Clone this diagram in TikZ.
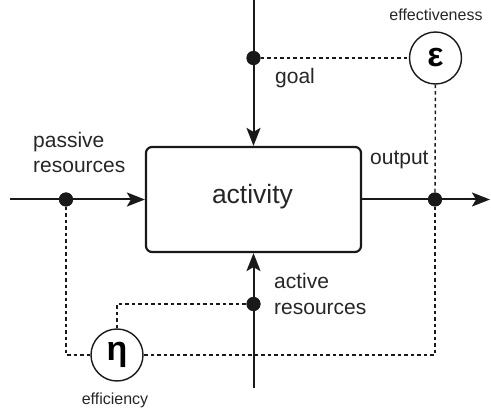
\documentclass[tikz,border=0pt]{standalone}
\usepackage{fontspec}
\setmainfont{Liberation Sans}
\usetikzlibrary{arrows.meta}
\begin{document}
\begin{tikzpicture}[x=1pt,y=-1pt,
  mainline/.style={line width=2pt,draw=black!90},
  arr/.style={mainline,-{Stealth[length=18pt,width=14pt,inset=4pt]}},
  dotline/.style={line width=1.4pt,dash pattern=on 3.5pt off 3pt,draw=black!90},
  blob/.style={circle,fill=black!90,inner sep=0pt,minimum size=14pt},
  meas/.style={circle,draw=black!90,line width=1.4pt,fill=white,minimum size=52pt,inner sep=0pt,font=\fontsize{34pt}{34pt}\selectfont\bfseries},
  lbl/.style={inner sep=0pt,anchor=base west,align=left,font=\fontsize{21pt}{25.5pt}\selectfont,text=black!85},
  small/.style={inner sep=0pt,anchor=base,font=\fontsize{16pt}{18pt}\selectfont,text=black!85}]
\useasboundingbox (0,0) rectangle (491,412);
% activity box
\node[draw=black!90,line width=2.2pt,rounded corners=6pt,minimum width=215pt,minimum height=105pt,inner sep=0pt] (act) at (253.5,199.5) {};
\node[inner sep=0pt,anchor=base,font=\fontsize{26.5pt}{30pt}\selectfont,text=black!85] (acttxt) at (252.5,204) {activity};
% end points
\coordinate (topend) at (253.5,0);
\coordinate (botend) at (253.5,388);
\coordinate (leftend) at (10,199.5);
\coordinate (rightend) at (490,199.5);
% dots
\node[blob] (gdot) at (253.5,58) {};
\node[blob] (pdot) at (66,199.5) {};
\node[blob] (adot) at (253.5,304) {};
\node[blob] (odot) at (435,199.5) {};
% measure circles
\node[meas] (eps) at (435.5,58) {ε};
\node[meas] (eta) at (117,355) {η};
% dotted connectors
\draw[dotline] (gdot) -- (eps);
\draw[dotline] (eps) -- (odot);
\draw[dotline] (odot) |- (eta);
\draw[dotline] (pdot) |- (eta);
\draw[dotline] (eta) |- (adot);
% main connectors
\draw[arr] (topend) -- (act.north);
\draw[arr] (botend) -- (act.south);
\draw[arr] (leftend) -- (act.west);
\draw[arr] (act.east) -- (rightend);
\node[blob] at (gdot) {};
\node[blob] at (pdot) {};
\node[blob] at (adot) {};
\node[blob] at (odot) {};
% labels (base anchor = baseline of last line)
\node[lbl] (goal) at (275,84) {goal};
\node[lbl] (outl) at (370,165) {output};
\node[lbl] (pres) at (33,173) {passive\\resources};
\node[lbl] (ares) at (274,314) {active\\resources};
\node[small] (efft) at (436,21) {effectiveness};
\node[small] (effc) at (115,404) {efficiency};
\end{tikzpicture}
\end{document}
